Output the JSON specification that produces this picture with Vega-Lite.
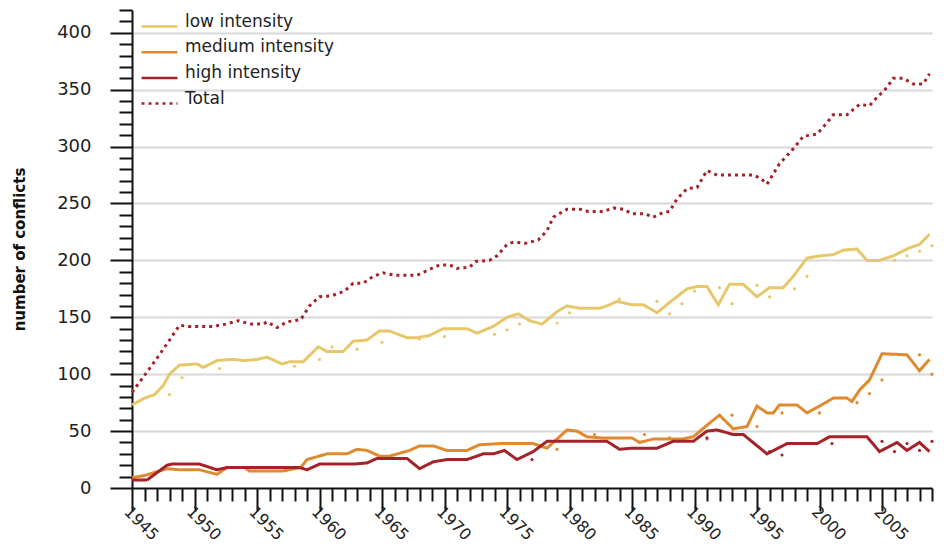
{
  "$schema": "https://vega.github.io/schema/vega-lite/v6.json",
  "width": 800,
  "height": 478,
  "padding": {"left": 12, "top": 1, "right": 12, "bottom": 0},
  "background": "white",
  "config": {
    "view": {"stroke": null},
    "font": "DejaVu Sans"
  },
  "datasets": {
    "lines": [
      {"series": "low intensity", "year": 1945.0, "value": 73},
      {"series": "low intensity", "year": 1946.0, "value": 79},
      {"series": "low intensity", "year": 1946.8, "value": 82},
      {"series": "low intensity", "year": 1947.5, "value": 90},
      {"series": "low intensity", "year": 1948.0, "value": 100},
      {"series": "low intensity", "year": 1948.8, "value": 108},
      {"series": "low intensity", "year": 1950.2, "value": 109},
      {"series": "low intensity", "year": 1950.7, "value": 106},
      {"series": "low intensity", "year": 1951.8, "value": 112},
      {"series": "low intensity", "year": 1953.0, "value": 113},
      {"series": "low intensity", "year": 1954.0, "value": 112},
      {"series": "low intensity", "year": 1955.0, "value": 113},
      {"series": "low intensity", "year": 1955.8, "value": 115},
      {"series": "low intensity", "year": 1957.0, "value": 109},
      {"series": "low intensity", "year": 1957.6, "value": 111},
      {"series": "low intensity", "year": 1958.7, "value": 111},
      {"series": "low intensity", "year": 1959.9, "value": 124},
      {"series": "low intensity", "year": 1960.6, "value": 120},
      {"series": "low intensity", "year": 1961.9, "value": 120},
      {"series": "low intensity", "year": 1962.7, "value": 129},
      {"series": "low intensity", "year": 1963.8, "value": 130},
      {"series": "low intensity", "year": 1964.8, "value": 138},
      {"series": "low intensity", "year": 1965.6, "value": 138},
      {"series": "low intensity", "year": 1967.0, "value": 132},
      {"series": "low intensity", "year": 1967.8, "value": 132},
      {"series": "low intensity", "year": 1968.8, "value": 134},
      {"series": "low intensity", "year": 1969.9, "value": 140},
      {"series": "low intensity", "year": 1971.8, "value": 140},
      {"series": "low intensity", "year": 1972.6, "value": 136},
      {"series": "low intensity", "year": 1973.9, "value": 142},
      {"series": "low intensity", "year": 1975.0, "value": 150},
      {"series": "low intensity", "year": 1975.9, "value": 153},
      {"series": "low intensity", "year": 1976.8, "value": 147},
      {"series": "low intensity", "year": 1977.8, "value": 144},
      {"series": "low intensity", "year": 1979.0, "value": 155},
      {"series": "low intensity", "year": 1979.8, "value": 160},
      {"series": "low intensity", "year": 1980.8, "value": 158},
      {"series": "low intensity", "year": 1982.4, "value": 158},
      {"series": "low intensity", "year": 1983.0, "value": 160},
      {"series": "low intensity", "year": 1983.8, "value": 164},
      {"series": "low intensity", "year": 1985.0, "value": 161},
      {"series": "low intensity", "year": 1985.9, "value": 161},
      {"series": "low intensity", "year": 1987.0, "value": 154},
      {"series": "low intensity", "year": 1988.0, "value": 163},
      {"series": "low intensity", "year": 1989.4, "value": 175},
      {"series": "low intensity", "year": 1990.2, "value": 177},
      {"series": "low intensity", "year": 1991.0, "value": 177},
      {"series": "low intensity", "year": 1991.9, "value": 161},
      {"series": "low intensity", "year": 1992.8, "value": 179},
      {"series": "low intensity", "year": 1993.9, "value": 179},
      {"series": "low intensity", "year": 1995.0, "value": 168},
      {"series": "low intensity", "year": 1996.0, "value": 176},
      {"series": "low intensity", "year": 1997.1, "value": 176},
      {"series": "low intensity", "year": 1997.9, "value": 186},
      {"series": "low intensity", "year": 1999.0, "value": 202},
      {"series": "low intensity", "year": 2000.0, "value": 204},
      {"series": "low intensity", "year": 2001.1, "value": 205},
      {"series": "low intensity", "year": 2001.9, "value": 209},
      {"series": "low intensity", "year": 2003.0, "value": 210},
      {"series": "low intensity", "year": 2003.8, "value": 200},
      {"series": "low intensity", "year": 2004.8, "value": 200},
      {"series": "low intensity", "year": 2005.9, "value": 204},
      {"series": "low intensity", "year": 2007.2, "value": 211},
      {"series": "low intensity", "year": 2008.0, "value": 214},
      {"series": "low intensity", "year": 2008.8, "value": 223},

      {"series": "medium intensity", "year": 1945.0, "value": 9},
      {"series": "medium intensity", "year": 1946.0, "value": 11},
      {"series": "medium intensity", "year": 1947.8, "value": 17},
      {"series": "medium intensity", "year": 1948.8, "value": 16},
      {"series": "medium intensity", "year": 1950.4, "value": 16},
      {"series": "medium intensity", "year": 1951.8, "value": 12},
      {"series": "medium intensity", "year": 1952.6, "value": 18},
      {"series": "medium intensity", "year": 1954.0, "value": 18},
      {"series": "medium intensity", "year": 1954.4, "value": 15},
      {"series": "medium intensity", "year": 1957.1, "value": 15},
      {"series": "medium intensity", "year": 1958.5, "value": 18},
      {"series": "medium intensity", "year": 1959.0, "value": 25},
      {"series": "medium intensity", "year": 1960.6, "value": 30},
      {"series": "medium intensity", "year": 1962.2, "value": 30},
      {"series": "medium intensity", "year": 1963.0, "value": 34},
      {"series": "medium intensity", "year": 1963.8, "value": 33},
      {"series": "medium intensity", "year": 1964.8, "value": 28},
      {"series": "medium intensity", "year": 1965.6, "value": 28},
      {"series": "medium intensity", "year": 1967.2, "value": 33},
      {"series": "medium intensity", "year": 1968.0, "value": 37},
      {"series": "medium intensity", "year": 1969.1, "value": 37},
      {"series": "medium intensity", "year": 1970.2, "value": 33},
      {"series": "medium intensity", "year": 1971.8, "value": 33},
      {"series": "medium intensity", "year": 1972.8, "value": 38},
      {"series": "medium intensity", "year": 1974.4, "value": 39},
      {"series": "medium intensity", "year": 1977.1, "value": 39},
      {"series": "medium intensity", "year": 1978.2, "value": 35},
      {"series": "medium intensity", "year": 1979.8, "value": 51},
      {"series": "medium intensity", "year": 1980.6, "value": 50},
      {"series": "medium intensity", "year": 1981.4, "value": 45},
      {"series": "medium intensity", "year": 1982.6, "value": 44},
      {"series": "medium intensity", "year": 1985.0, "value": 44},
      {"series": "medium intensity", "year": 1985.6, "value": 40},
      {"series": "medium intensity", "year": 1986.7, "value": 43},
      {"series": "medium intensity", "year": 1989.0, "value": 43},
      {"series": "medium intensity", "year": 1989.9, "value": 45},
      {"series": "medium intensity", "year": 1991.2, "value": 57},
      {"series": "medium intensity", "year": 1992.0, "value": 64},
      {"series": "medium intensity", "year": 1993.1, "value": 52},
      {"series": "medium intensity", "year": 1994.2, "value": 54},
      {"series": "medium intensity", "year": 1995.0, "value": 72},
      {"series": "medium intensity", "year": 1995.8, "value": 66},
      {"series": "medium intensity", "year": 1996.3, "value": 66},
      {"series": "medium intensity", "year": 1996.8, "value": 73},
      {"series": "medium intensity", "year": 1998.2, "value": 73},
      {"series": "medium intensity", "year": 1999.0, "value": 66},
      {"series": "medium intensity", "year": 2000.0, "value": 72},
      {"series": "medium intensity", "year": 2001.1, "value": 79},
      {"series": "medium intensity", "year": 2002.2, "value": 79},
      {"series": "medium intensity", "year": 2002.6, "value": 76},
      {"series": "medium intensity", "year": 2003.2, "value": 86},
      {"series": "medium intensity", "year": 2004.0, "value": 95},
      {"series": "medium intensity", "year": 2005.0, "value": 118},
      {"series": "medium intensity", "year": 2007.0, "value": 117},
      {"series": "medium intensity", "year": 2008.0, "value": 103},
      {"series": "medium intensity", "year": 2008.8, "value": 113},

      {"series": "high intensity", "year": 1945.0, "value": 7},
      {"series": "high intensity", "year": 1946.2, "value": 7},
      {"series": "high intensity", "year": 1947.8, "value": 20},
      {"series": "high intensity", "year": 1948.2, "value": 21},
      {"series": "high intensity", "year": 1950.4, "value": 21},
      {"series": "high intensity", "year": 1951.8, "value": 16},
      {"series": "high intensity", "year": 1952.6, "value": 18},
      {"series": "high intensity", "year": 1958.4, "value": 18},
      {"series": "high intensity", "year": 1959.0, "value": 16},
      {"series": "high intensity", "year": 1960.0, "value": 21},
      {"series": "high intensity", "year": 1962.7, "value": 21},
      {"series": "high intensity", "year": 1963.8, "value": 22},
      {"series": "high intensity", "year": 1964.6, "value": 26},
      {"series": "high intensity", "year": 1967.0, "value": 26},
      {"series": "high intensity", "year": 1968.0, "value": 17},
      {"series": "high intensity", "year": 1969.1, "value": 23},
      {"series": "high intensity", "year": 1970.2, "value": 25},
      {"series": "high intensity", "year": 1971.8, "value": 25},
      {"series": "high intensity", "year": 1973.1, "value": 30},
      {"series": "high intensity", "year": 1973.9, "value": 30},
      {"series": "high intensity", "year": 1974.8, "value": 33},
      {"series": "high intensity", "year": 1975.8, "value": 25},
      {"series": "high intensity", "year": 1977.1, "value": 32},
      {"series": "high intensity", "year": 1978.2, "value": 41},
      {"series": "high intensity", "year": 1979.8, "value": 41},
      {"series": "high intensity", "year": 1983.0, "value": 41},
      {"series": "high intensity", "year": 1984.0, "value": 34},
      {"series": "high intensity", "year": 1985.0, "value": 35},
      {"series": "high intensity", "year": 1987.0, "value": 35},
      {"series": "high intensity", "year": 1988.3, "value": 41},
      {"series": "high intensity", "year": 1989.9, "value": 41},
      {"series": "high intensity", "year": 1991.0, "value": 50},
      {"series": "high intensity", "year": 1991.8, "value": 51},
      {"series": "high intensity", "year": 1993.1, "value": 47},
      {"series": "high intensity", "year": 1993.9, "value": 47},
      {"series": "high intensity", "year": 1995.8, "value": 30},
      {"series": "high intensity", "year": 1997.4, "value": 39},
      {"series": "high intensity", "year": 1999.8, "value": 39},
      {"series": "high intensity", "year": 2000.8, "value": 45},
      {"series": "high intensity", "year": 2003.8, "value": 45},
      {"series": "high intensity", "year": 2004.8, "value": 32},
      {"series": "high intensity", "year": 2006.2, "value": 40},
      {"series": "high intensity", "year": 2007.0, "value": 33},
      {"series": "high intensity", "year": 2008.0, "value": 40},
      {"series": "high intensity", "year": 2008.8, "value": 32},

      {"series": "Total", "year": 1945.0, "value": 84},
      {"series": "Total", "year": 1946.0, "value": 99},
      {"series": "Total", "year": 1947.0, "value": 114},
      {"series": "Total", "year": 1948.0, "value": 130},
      {"series": "Total", "year": 1948.8, "value": 143},
      {"series": "Total", "year": 1949.5, "value": 142},
      {"series": "Total", "year": 1951.5, "value": 142},
      {"series": "Total", "year": 1952.5, "value": 144},
      {"series": "Total", "year": 1953.5, "value": 147},
      {"series": "Total", "year": 1954.5, "value": 144},
      {"series": "Total", "year": 1955.5, "value": 144},
      {"series": "Total", "year": 1955.8, "value": 146},
      {"series": "Total", "year": 1956.6, "value": 141},
      {"series": "Total", "year": 1957.4, "value": 146},
      {"series": "Total", "year": 1958.5, "value": 148},
      {"series": "Total", "year": 1959.2, "value": 160},
      {"series": "Total", "year": 1960.0, "value": 168},
      {"series": "Total", "year": 1961.0, "value": 169},
      {"series": "Total", "year": 1962.0, "value": 173},
      {"series": "Total", "year": 1962.7, "value": 180},
      {"series": "Total", "year": 1963.5, "value": 180},
      {"series": "Total", "year": 1964.3, "value": 186},
      {"series": "Total", "year": 1965.1, "value": 189},
      {"series": "Total", "year": 1966.0, "value": 187},
      {"series": "Total", "year": 1967.8, "value": 187},
      {"series": "Total", "year": 1968.6, "value": 191},
      {"series": "Total", "year": 1969.6, "value": 196},
      {"series": "Total", "year": 1970.4, "value": 196},
      {"series": "Total", "year": 1971.0, "value": 193},
      {"series": "Total", "year": 1972.0, "value": 194},
      {"series": "Total", "year": 1972.5, "value": 199},
      {"series": "Total", "year": 1973.6, "value": 200},
      {"series": "Total", "year": 1974.2, "value": 204},
      {"series": "Total", "year": 1975.0, "value": 214},
      {"series": "Total", "year": 1975.5, "value": 216},
      {"series": "Total", "year": 1976.5, "value": 215},
      {"series": "Total", "year": 1977.5, "value": 218},
      {"series": "Total", "year": 1978.2, "value": 226},
      {"series": "Total", "year": 1978.7, "value": 238},
      {"series": "Total", "year": 1979.8, "value": 245},
      {"series": "Total", "year": 1980.8, "value": 245},
      {"series": "Total", "year": 1981.5, "value": 243},
      {"series": "Total", "year": 1982.7, "value": 243},
      {"series": "Total", "year": 1983.5, "value": 246},
      {"series": "Total", "year": 1984.3, "value": 245},
      {"series": "Total", "year": 1985.0, "value": 241},
      {"series": "Total", "year": 1986.0, "value": 241},
      {"series": "Total", "year": 1986.7, "value": 238},
      {"series": "Total", "year": 1987.5, "value": 242},
      {"series": "Total", "year": 1988.0, "value": 243},
      {"series": "Total", "year": 1988.6, "value": 254},
      {"series": "Total", "year": 1989.4, "value": 263},
      {"series": "Total", "year": 1990.2, "value": 264},
      {"series": "Total", "year": 1991.0, "value": 279},
      {"series": "Total", "year": 1991.8, "value": 275},
      {"series": "Total", "year": 1994.7, "value": 275},
      {"series": "Total", "year": 1995.3, "value": 272},
      {"series": "Total", "year": 1995.8, "value": 267},
      {"series": "Total", "year": 1996.8, "value": 285},
      {"series": "Total", "year": 1997.9, "value": 298},
      {"series": "Total", "year": 1998.7, "value": 309},
      {"series": "Total", "year": 1999.8, "value": 311},
      {"series": "Total", "year": 2000.6, "value": 321},
      {"series": "Total", "year": 2001.1, "value": 328},
      {"series": "Total", "year": 2002.2, "value": 328},
      {"series": "Total", "year": 2003.2, "value": 337},
      {"series": "Total", "year": 2004.0, "value": 336},
      {"series": "Total", "year": 2004.5, "value": 342},
      {"series": "Total", "year": 2005.4, "value": 352},
      {"series": "Total", "year": 2005.9, "value": 360},
      {"series": "Total", "year": 2006.7, "value": 360},
      {"series": "Total", "year": 2007.5, "value": 355},
      {"series": "Total", "year": 2008.3, "value": 355},
      {"series": "Total", "year": 2008.8, "value": 364}
    ],
    "dots": [
      {"series": "low intensity", "year": 1948, "value": 82},
      {"series": "low intensity", "year": 1949, "value": 97},
      {"series": "low intensity", "year": 1952, "value": 105},
      {"series": "low intensity", "year": 1958, "value": 107},
      {"series": "low intensity", "year": 1960, "value": 113},
      {"series": "low intensity", "year": 1961, "value": 124},
      {"series": "low intensity", "year": 1963, "value": 122},
      {"series": "low intensity", "year": 1965, "value": 128},
      {"series": "low intensity", "year": 1968, "value": 131},
      {"series": "low intensity", "year": 1970, "value": 133},
      {"series": "low intensity", "year": 1974, "value": 135},
      {"series": "low intensity", "year": 1975, "value": 139},
      {"series": "low intensity", "year": 1976, "value": 144},
      {"series": "low intensity", "year": 1979, "value": 145},
      {"series": "low intensity", "year": 1980, "value": 154},
      {"series": "low intensity", "year": 1984, "value": 166},
      {"series": "low intensity", "year": 1987, "value": 164},
      {"series": "low intensity", "year": 1988, "value": 153},
      {"series": "low intensity", "year": 1989, "value": 162},
      {"series": "low intensity", "year": 1990, "value": 173},
      {"series": "low intensity", "year": 1992, "value": 176},
      {"series": "low intensity", "year": 1993, "value": 162},
      {"series": "low intensity", "year": 1995, "value": 178},
      {"series": "low intensity", "year": 1996, "value": 168},
      {"series": "low intensity", "year": 1998, "value": 175},
      {"series": "low intensity", "year": 1999, "value": 186},
      {"series": "low intensity", "year": 2006, "value": 200},
      {"series": "low intensity", "year": 2007, "value": 204},
      {"series": "low intensity", "year": 2008, "value": 208},
      {"series": "low intensity", "year": 2009, "value": 213},
      {"series": "medium intensity", "year": 1979, "value": 34},
      {"series": "medium intensity", "year": 1982, "value": 47},
      {"series": "medium intensity", "year": 1986, "value": 47},
      {"series": "medium intensity", "year": 1988, "value": 44},
      {"series": "medium intensity", "year": 1991, "value": 43},
      {"series": "medium intensity", "year": 1993, "value": 64},
      {"series": "medium intensity", "year": 1995, "value": 54},
      {"series": "medium intensity", "year": 1997, "value": 66},
      {"series": "medium intensity", "year": 2000, "value": 66},
      {"series": "medium intensity", "year": 2003, "value": 75},
      {"series": "medium intensity", "year": 2004, "value": 83},
      {"series": "medium intensity", "year": 2005, "value": 95},
      {"series": "medium intensity", "year": 2008, "value": 117},
      {"series": "medium intensity", "year": 2009, "value": 100},
      {"series": "high intensity", "year": 1977, "value": 25},
      {"series": "high intensity", "year": 1991, "value": 44},
      {"series": "high intensity", "year": 1996, "value": 32},
      {"series": "high intensity", "year": 1997, "value": 29},
      {"series": "high intensity", "year": 2001, "value": 39},
      {"series": "high intensity", "year": 2005, "value": 41},
      {"series": "high intensity", "year": 2006, "value": 32},
      {"series": "high intensity", "year": 2007, "value": 39},
      {"series": "high intensity", "year": 2008, "value": 33},
      {"series": "high intensity", "year": 2009, "value": 41}
    ]
  },
  "encoding": {
    "x": {
      "field": "year",
      "type": "quantitative",
      "scale": {"domain": [1945, 2009], "nice": false, "zero": false},
      "axis": {
        "title": null,
        "values": [1945,1946,1947,1948,1949,1950,1951,1952,1953,1954,1955,1956,1957,1958,1959,1960,1961,1962,1963,1964,1965,1966,1967,1968,1969,1970,1971,1972,1973,1974,1975,1976,1977,1978,1979,1980,1981,1982,1983,1984,1985,1986,1987,1988,1989,1990,1991,1992,1993,1994,1995,1996,1997,1998,1999,2000,2001,2002,2003,2004,2005,2006,2007,2008,2009],
        "format": "d",
        "labelExpr": "datum.value % 5 === 0 ? datum.label : ''",
        "labelAngle": 45,
        "labelAlign": "left",
        "labelBaseline": "top",
        "labelFont": "DejaVu Sans",
        "labelFontSize": 16,
        "labelColor": "#222222",
        "labelPadding": -8,
        "labelOverlap": false,
        "labelFlush": false,
        "grid": false,
        "domainColor": "#111111",
        "domainWidth": 2,
        "tickColor": "#111111",
        "tickWidth": 2,
        "tickSize": {"condition": {"test": "datum.value % 5 !== 0", "value": 13}, "value": 23}
      }
    },
    "y": {
      "field": "value",
      "type": "quantitative",
      "scale": {"domain": [0, 420], "nice": false},
      "axis": {
        "title": "number of conflicts",
        "titleFont": "DejaVu Sans",
        "titleFontSize": 15,
        "titleFontWeight": "bold",
        "titleColor": "#111111",
        "titlePadding": 29,
        "values": [0,10,20,30,40,50,60,70,80,90,100,110,120,130,140,150,160,170,180,190,200,210,220,230,240,250,260,270,280,290,300,310,320,330,340,350,360,370,380,390,400,410,420],
        "labelExpr": "datum.value % 50 === 0 ? datum.label : ''",
        "labelFont": "DejaVu Sans",
        "labelFontSize": 18,
        "labelColor": "#222222",
        "labelPadding": 19,
        "labelOverlap": false,
        "labelFlush": false,
        "grid": true,
        "gridColor": "#d8d8d8",
        "gridWidth": 2,
        "gridOpacity": {"condition": {"test": "datum.value % 50 === 0 && datum.value > 0", "value": 1}, "value": 0},
        "domainColor": "#111111",
        "domainWidth": 2,
        "tickColor": "#111111",
        "tickWidth": 2,
        "tickSize": {"condition": {"test": "datum.value % 50 !== 0", "value": 13}, "value": 22}
      }
    }
  },
  "layer": [
    {
      "data": {"name": "lines"},
      "mark": {"type": "line", "strokeWidth": 3, "interpolate": "linear"},
      "encoding": {
        "color": {
          "field": "series",
          "type": "nominal",
          "scale": {
            "domain": ["low intensity", "medium intensity", "high intensity", "Total"],
            "range": ["#e6c86a", "#e08a2f", "#a4232a", "#a4232a"]
          },
          "legend": {
            "title": null,
            "orient": "none",
            "legendX": 19,
            "legendY": 8,
            "symbolType": "M-3,0H3",
            "symbolSize": 144,
            "symbolStrokeWidth": 2.5,
            "labelOffset": 17,
            "labelFont": "DejaVu Sans",
            "labelFontSize": 17,
            "labelColor": "#222222",
            "labelBaseline": "alphabetic",
            "rowPadding": 5.7
          }
        },
        "strokeDash": {
          "field": "series",
          "type": "nominal",
          "scale": {
            "domain": ["low intensity", "medium intensity", "high intensity", "Total"],
            "range": [[1, 0], [1, 0], [1, 0], [3, 4]]
          },
          "legend": {
            "title": null,
            "orient": "none",
            "legendX": 19,
            "legendY": 8,
            "symbolType": "M-3,0H3",
            "symbolSize": 144,
            "symbolStrokeWidth": 2.5,
            "labelOffset": 17,
            "labelFont": "DejaVu Sans",
            "labelFontSize": 17,
            "labelColor": "#222222",
            "labelBaseline": "alphabetic",
            "rowPadding": 5.7
          }
        }
      }
    },
    {
      "data": {"name": "dots"},
      "mark": {"type": "point", "filled": true, "size": 10, "opacity": 1},
      "encoding": {
        "color": {"field": "series", "type": "nominal", "legend": null}
      }
    }
  ]
}
